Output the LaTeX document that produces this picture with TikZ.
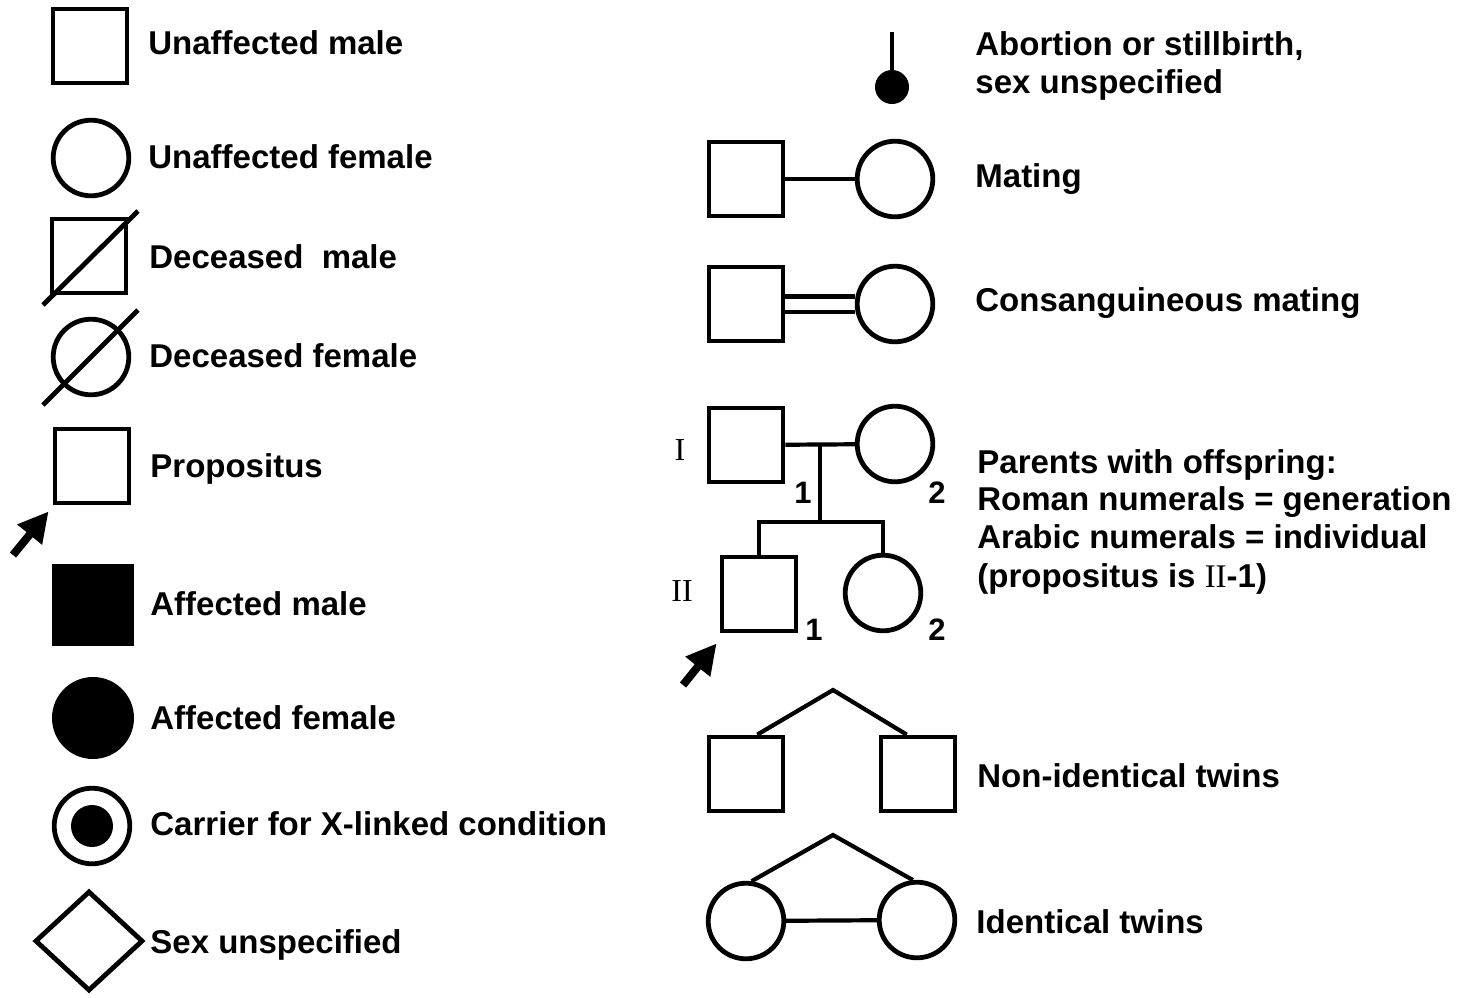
\documentclass[tikz,border=0pt]{standalone}
\usepackage{fontspec}
\setmainfont{Liberation Sans}
\newfontfamily\romanfont{Liberation Serif}
\usetikzlibrary{shapes.geometric,arrows.meta,calc}

\begin{document}
\begin{tikzpicture}[x=0.5pt,y=-0.5pt,
  male/.style={draw,line width=2.4pt,rectangle,minimum size=37pt,inner sep=0pt,fill=white},
  female/.style={draw,line width=2.4pt,circle,minimum size=37.8pt,inner sep=0pt,fill=white},
  affmale/.style={draw,line width=1pt,rectangle,minimum size=40pt,inner sep=0pt,fill=black},
  afffemale/.style={draw,line width=1pt,circle,minimum size=40pt,inner sep=0pt,fill=black},
  dot/.style={circle,fill=black,inner sep=0pt,minimum size=#1},
  unspec/.style={draw,line width=2.4pt,diamond,inner sep=0pt,minimum width=54pt,minimum height=50pt},
  link/.style={line width=2.1pt},
  strike/.style={line width=2.4pt},
  probarrow/.style={line width=4pt,-{Triangle[length=15pt,width=15pt]}},
  lbl/.style={anchor=base west,inner sep=0pt,font=\bfseries\fontsize{16.5}{20}\selectfont},
  num/.style={inner sep=0pt,font=\bfseries\fontsize{15.5}{17}\selectfont},
  gen/.style={inner sep=0pt,font=\romanfont\fontsize{16}{18}\selectfont},
]
\useasboundingbox[fill=white] (0,0) rectangle (1461,997);

% ---------------- left column: single symbols ----------------
\node[male]   (um) at (90,46)  {};
\node[female] (uf) at (91,158) {};
\node[male]   (dm) at (89,256) {};
\node[female] (df) at (91,357) {};
\coordinate (dm-a) at (43,305);  \coordinate (dm-b) at (138,211);
\draw[strike] (dm-a) -- (dm-b);
\coordinate (df-a) at (43,405);  \coordinate (df-b) at (138,310);
\draw[strike] (df-a) -- (df-b);
\node[male]   (pm) at (92,466) {};
\coordinate (pm-tail) at (13,555);
\draw[probarrow] (pm-tail) -- ($(pm.south west)+(-4,6)$);
\node[affmale]   (am) at (93,605) {};
\node[afffemale] (af) at (93,718) {};
\node[female] (cf) at (92,826) {};
\node[dot=21pt] (cfc) at (cf.center) {};
\node[unspec] (su) at (89,941) {};

\node[lbl] (t-um) at (148,54)  {Unaffected male};
\node[lbl] (t-uf) at (148,168) {Unaffected female};
\node[lbl] (t-dm) at (149,268) {Deceased\ \ male};
\node[lbl] (t-df) at (149,367) {Deceased female};
\node[lbl] (t-pm) at (150,477) {Propositus};
\node[lbl] (t-am) at (150,615) {Affected male};
\node[lbl] (t-af) at (150,729) {Affected female};
\node[lbl] (t-cf) at (150,835) {Carrier for X-linked condition};
\node[lbl] (t-su) at (150,953) {Sex unspecified};

% ---------------- right column: relationships ----------------
% abortion / stillbirth
\node[dot=17pt] (ab) at (892,87) {};
\coordinate (ab-top) at (892,32);
\draw[link] (ab-top) -- (ab);

% mating
\node[male]   (mm) at (746,179) {};
\node[female] (mf) at (895,179) {};
\draw[link] (mm) -- (mf);

% consanguineous mating
\node[male]   (cm) at (746,304) {};
\node[female] (cw) at (895,304) {};
\draw[link] ([yshift=3.8pt]cm.east) -- ([yshift=3.8pt]cw.west);
\draw[link] ([yshift=-3.8pt]cm.east) -- ([yshift=-3.8pt]cw.west);

% parents with offspring
\node[male]   (p1) at (746,445) {};
\node[female] (p2) at (895,444) {};
\draw[link] (p1) -- (p2);
\coordinate (pmid) at ($(p1.east)!0.5!(p2.west)$);
\coordinate (sib) at (pmid |- 0,522);
\node[male]   (c1) at (759,594) {};
\node[female] (c2) at (883,593) {};
\draw[link] (pmid) -- (sib);
\draw[link] (c1.north) |- (sib) -| (c2.north);
\coordinate (c1-tail) at (683,685);
\draw[probarrow] (c1-tail) -- ($(c1.south west)+(-3,10)$);

\node[gen] (g1) at (680,450) {I};
\node[gen] (g2) at (682,591) {II};
\node[num] (n11) at (803,493) {1};
\node[num] (n12) at (937,493) {2};
\node[num] (n21) at (814,630) {1};
\node[num] (n22) at (937,630) {2};

% non-identical twins
\node[male] (t1) at (746,774) {};
\node[male] (t2) at (918,774) {};
\coordinate (tw-apex) at (833,690);
\draw[link] (t1.74) -- (tw-apex) -- (t2.106);

% identical twins
\node[female] (i1) at (746,921) {};
\node[female] (i2) at (917,920) {};
\coordinate (id-apex) at (833,835);
\draw[link] (i1.82) -- (id-apex) -- (i2.96);
\draw[link] (i1) -- (i2);

% captions
\node[lbl] (t-ab1) at (975,55)  {Abortion or stillbirth,};
\node[lbl] (t-ab2) at (975,93)  {sex unspecified};
\node[lbl] (t-mt)  at (975,187) {Mating};
\node[lbl] (t-cm)  at (975,311) {Consanguineous mating};
\node[lbl] (t-po1) at (977,473) {Parents with offspring:};
\node[lbl] (t-po2) at (977,510) {Roman numerals = generation};
\node[lbl] (t-po3) at (977,548) {Arabic numerals = individual};
\node[lbl] (t-po4) at (977,587) {(propositus is {\romanfont\mdseries II}-1)};
\node[lbl] (t-nt)  at (977,787) {Non-identical twins};
\node[lbl] (t-it)  at (976,933) {Identical twins};
\end{tikzpicture}
\end{document}
